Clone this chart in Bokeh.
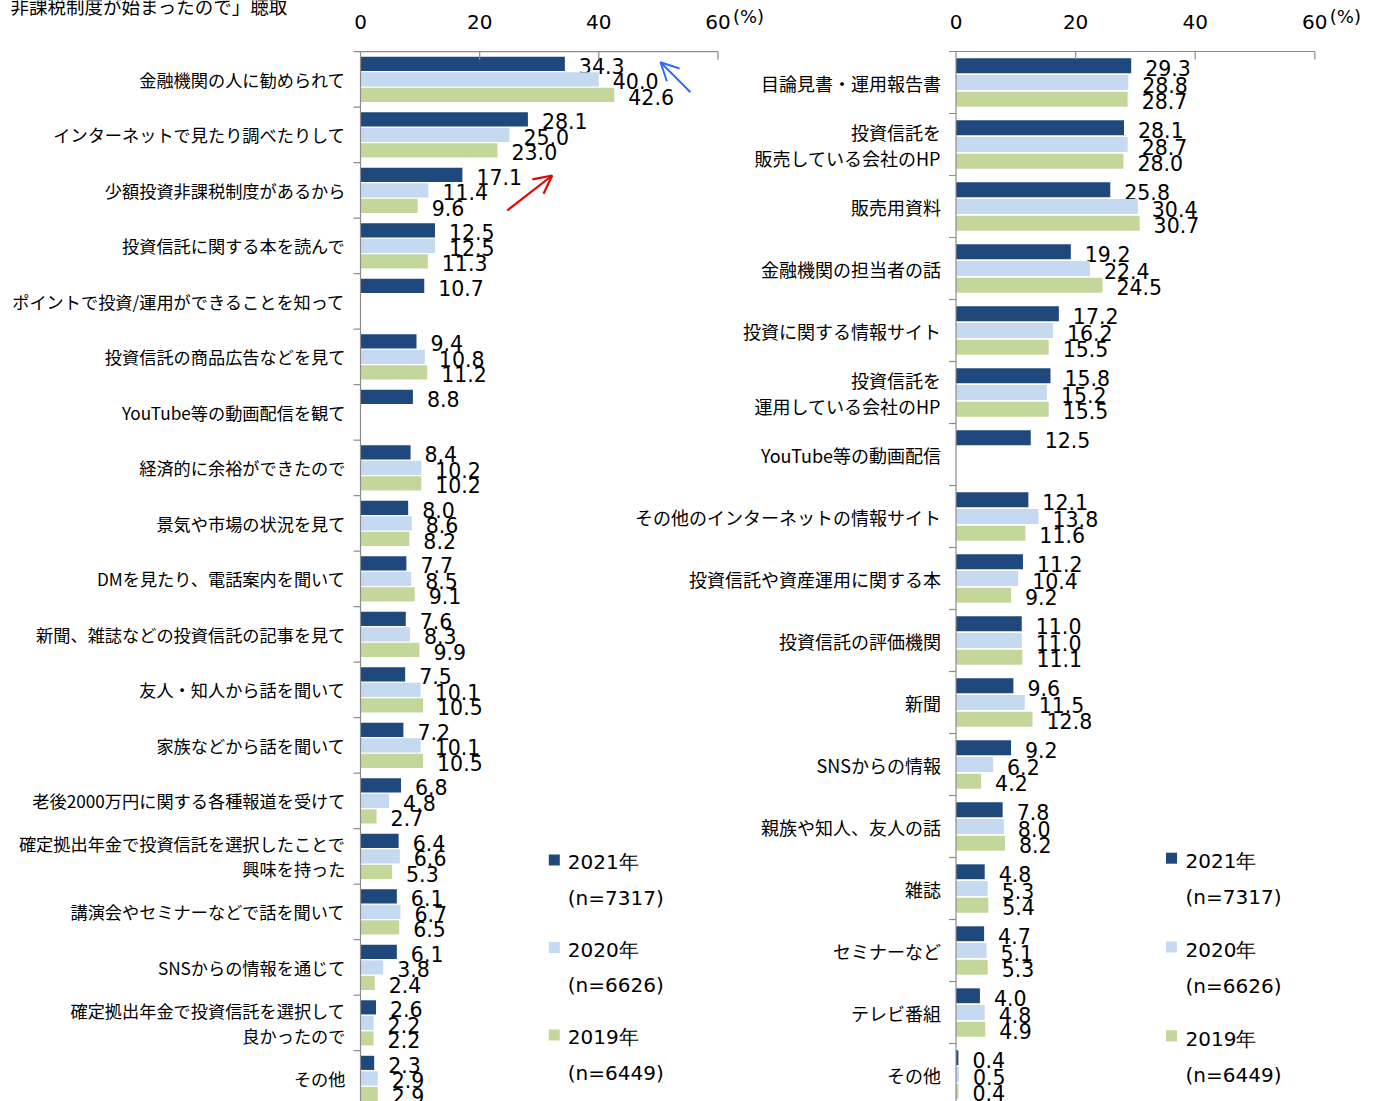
from bokeh.plotting import figure
from bokeh.models import Range1d, Arrow, OpenHead, ColumnDataSource
from bokeh.core.properties import value
from bokeh.embed import file_html
from bokeh.resources import INLINE

# ---------------- data ----------------
left_categories = [
    "金融機関の人に勧められて",
    "インターネットで見たり調べたりして",
    "少額投資非課税制度があるから",
    "投資信託に関する本を読んで",
    "ポイントで投資/運用ができることを知って",
    "投資信託の商品広告などを見て",
    "YouTube等の動画配信を観て",
    "経済的に余裕ができたので",
    "景気や市場の状況を見て",
    "DMを見たり、電話案内を聞いて",
    "新聞、雑誌などの投資信託の記事を見て",
    "友人・知人から話を聞いて",
    "家族などから話を聞いて",
    "老後2000万円に関する各種報道を受けて",
    "確定拠出年金で投資信託を選択したことで\n興味を持った",
    "講演会やセミナーなどで話を聞いて",
    "SNSからの情報を通じて",
    "確定拠出年金で投資信託を選択して\n良かったので",
    "その他",
]
left_2021 = [34.3, 28.1, 17.1, 12.5, 10.7, 9.4, 8.8, 8.4, 8.0, 7.7, 7.6, 7.5, 7.2, 6.8, 6.4, 6.1, 6.1, 2.6, 2.3]
left_2020 = [40.0, 25.0, 11.4, 12.5, None, 10.8, None, 10.2, 8.6, 8.5, 8.3, 10.1, 10.1, 4.8, 6.6, 6.7, 3.8, 2.2, 2.9]
left_2019 = [42.6, 23.0, 9.6, 11.3, None, 11.2, None, 10.2, 8.2, 9.1, 9.9, 10.5, 10.5, 2.7, 5.3, 6.5, 2.4, 2.2, 2.9]

right_categories = [
    "目論見書・運用報告書",
    "投資信託を\n販売している会社のHP",
    "販売用資料",
    "金融機関の担当者の話",
    "投資に関する情報サイト",
    "投資信託を\n運用している会社のHP",
    "YouTube等の動画配信",
    "その他のインターネットの情報サイト",
    "投資信託や資産運用に関する本",
    "投資信託の評価機関",
    "新聞",
    "SNSからの情報",
    "親族や知人、友人の話",
    "雑誌",
    "セミナーなど",
    "テレビ番組",
    "その他",
]
right_2021 = [29.3, 28.1, 25.8, 19.2, 17.2, 15.8, 12.5, 12.1, 11.2, 11.0, 9.6, 9.2, 7.8, 4.8, 4.7, 4.0, 0.4]
right_2020 = [28.8, 28.7, 30.4, 22.4, 16.2, 15.2, None, 13.8, 10.4, 11.0, 11.5, 6.2, 8.0, 5.3, 5.1, 4.8, 0.5]
right_2019 = [28.7, 28.0, 30.7, 24.5, 15.5, 15.5, None, 11.6, 9.2, 11.1, 12.8, 4.2, 8.2, 5.4, 5.3, 4.9, 0.4]

x_ticks = [0, 20, 40, 60]
series_years = ["2021年", "2020年", "2019年"]
series_n = ["(n=7317)", "(n=6626)", "(n=6449)"]
top_note = "非課税制度が始まったので」聴取"

# ---------------- style / layout ----------------
colors = ["#1f497d", "#c5d9f1", "#c4d79b"]
AXIS = "#8c8c8c"
JP = value("Noto Sans CJK JP")
NUM = value("DejaVu Sans")
W, H = 1384, 1101
PAGE = 0

# left panel mapping (page px)
X0L, SXL, Y0L, BANDL = 360.0, 5.958, 78.9, 55.5
# right panel mapping (page px)
X0R, SXR, Y0R, BANDR = 955.5, 5.98, 82.0, 62.0


def lx(px):
    return (px - X0L) / SXL


def ly(py):
    return (py - Y0L) / BANDL


p = figure(
    width=W, height=H, output_backend="svg", toolbar_location=None, title=None,
    x_axis_location=None, y_axis_location=None,
    x_range=Range1d((PAGE - X0L) / SXL, (PAGE + W - X0L) / SXL),
    y_range=Range1d(start=(PAGE + H - Y0L) / BANDL, end=(PAGE - Y0L) / BANDL),
    min_border=0, min_border_left=0, min_border_right=0, min_border_top=0, min_border_bottom=0,
)
p.extra_x_ranges = {"r": Range1d((PAGE - X0R) / SXR, (PAGE + W - X0R) / SXR)}
p.extra_y_ranges = {"r": Range1d(start=(PAGE + H - Y0R) / BANDR, end=(PAGE - Y0R) / BANDR)}
p.outline_line_color = None
p.background_fill_color = "white"
p.border_fill_color = "white"
p.grid.visible = False


def panel(cats, vals_list, offsets, bar_h, sx, band, label_size, rng):
    kw = dict(x_range_name=rng, y_range_name=rng) if rng else {}
    n = len(cats)
    for vals, off, col in zip(vals_list, offsets, colors):
        ys = [i + off for i, v in enumerate(vals) if v is not None]
        xs = [v for v in vals if v is not None]
        src = ColumnDataSource(dict(y=ys, right=xs, lab=[f"{v:.1f}" for v in xs]))
        p.hbar(y="y", left=0, right="right", height=bar_h, source=src,
               fill_color=col, line_color=None, **kw)
        p.text(x="right", y="y", text="lab", source=src, x_offset=14, y_offset=2,
               text_align="left", text_baseline="middle", text_font=NUM,
               text_font_size="20.5px", text_color="#000000", **kw)
    # axis lines
    p.segment(x0=[0], y0=[-0.5], x1=[0], y1=[n + 0.5], line_color=AXIS, line_width=1.2, **kw)
    p.segment(x0=[0], y0=[-0.5], x1=[x_ticks[-1]], y1=[-0.5], line_color=AXIS, line_width=1.2, **kw)
    p.segment(x0=x_ticks[1:], y0=-0.5, x1=x_ticks[1:], y1=-0.5 + 8 / band,
              line_color=AXIS, line_width=1.2, **kw)
    bnd = [k - 0.5 for k in range(n + 1)]
    p.segment(x0=-7 / sx, y0=bnd, x1=0, y1=bnd, line_color=AXIS, line_width=1.2, **kw)
    # category labels
    p.text(x=0, y=list(range(n)), text=cats, x_offset=-15, text_align="right",
           text_baseline="middle", text_font=JP, text_font_size=label_size,
           text_line_height=1.0, text_color="#000000", **kw)
    # top tick labels
    p.text(x=x_ticks, y=-0.5, text=[str(t) for t in x_ticks], y_offset=-30,
           text_align="center", text_baseline="middle", text_font=NUM,
           text_font_size="20px", text_color="#000000", **kw)
    p.text(x=[x_ticks[-1]], y=[-0.5], text=["(%)"], x_offset=15, y_offset=-35,
           text_align="left", text_baseline="middle", text_font=NUM,
           text_font_size="18px", text_color="#000000", **kw)


panel(left_categories, [left_2021, left_2020, left_2019], [-0.28, 0.0, 0.28], 0.255,
      SXL, BANDL, "17.2px", None)
panel(right_categories, [right_2021, right_2020, right_2019], [-0.27, 0.0, 0.27], 0.24,
      SXR, BANDR, "18px", "r")


def legend(sq_x, sq_y, step, dx, dy_year, dy_n):
    ys = [sq_y + k * step for k in range(3)]
    p.scatter(x=[lx(sq_x)] * 3, y=[ly(y) for y in ys], marker="square", size=11,
              fill_color=colors, line_color=None)
    p.text(x=[lx(sq_x + dx)] * 3, y=[ly(y + dy_year) for y in ys], text=series_years,
           text_align="left", text_baseline="middle", text_font=NUM,
           text_font_size="20px", text_color="#000000")
    p.text(x=[lx(sq_x + dx)] * 3, y=[ly(y + dy_n) for y in ys], text=series_n,
           text_align="left", text_baseline="middle", text_font=NUM,
           text_font_size="20px", text_color="#000000")


legend(553.8, 859.5, 87.5, 13.5, 2.0, 37.5)
legend(1171.0, 857.7, 88.8, 14.0, 3.0, 39.0)

# note at the top (cut off in the original)
p.text(x=[lx(10)], y=[ly(5)], text=[top_note], text_align="left", text_baseline="middle",
       text_font=JP, text_font_size="18.5px", text_color="#000000")

# arrows
blue = "#2f6bff"
red = "#e60000"
p.add_layout(Arrow(end=OpenHead(size=18, line_color=blue, line_width=2),
                   x_start=lx(690), y_start=ly(91.7), x_end=lx(660), y_end=ly(61.7),
                   line_color=blue, line_width=2))
p.add_layout(Arrow(end=OpenHead(size=18, line_color=red, line_width=2.2),
                   x_start=lx(506.7), y_start=ly(210), x_end=lx(551.7), y_end=ly(175),
                   line_color=red, line_width=2.2))

open("out.html", "w").write(file_html(p, INLINE))
